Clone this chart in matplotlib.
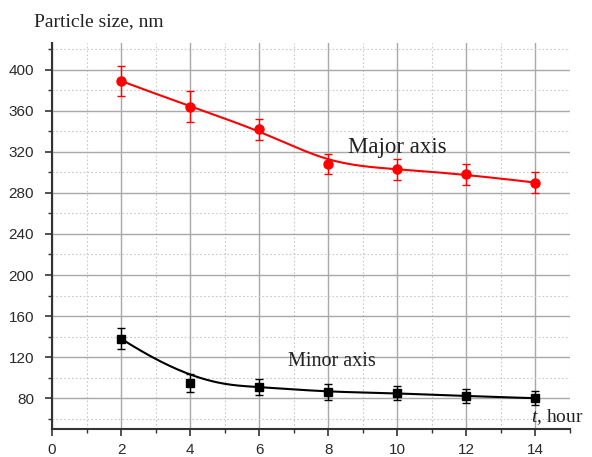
import numpy as np
import matplotlib
matplotlib.use("Agg")
import matplotlib.pyplot as plt
from matplotlib.ticker import MultipleLocator

t_hours = [2, 4, 6, 8, 10, 12, 14]
major_axis = [389, 364, 342, 308, 303, 298, 290]
major_err = [15, 15, 10, 10, 10, 10, 10]
minor_axis = [138, 95, 91, 86, 85, 82, 80]
minor_err = [10, 9, 8, 8, 7, 7, 7]

plt.rcParams["mathtext.fontset"] = "custom"
plt.rcParams["mathtext.it"] = "Liberation Serif:italic"
plt.rcParams["mathtext.rm"] = "Liberation Serif"


def bspline(x, y, n=300, k=3):
    """Clamped cubic B-spline using the data points as control points."""
    P = np.column_stack([x, y]).astype(float)
    m = len(P)
    inner = np.arange(1, m - k)
    knots = np.concatenate([np.zeros(k + 1), inner, np.full(k + 1, m - k)]).astype(float)
    u = np.linspace(0, m - k, n)
    u[-1] -= 1e-9
    B = np.zeros((n, len(knots) - 1))
    for i in range(len(knots) - 1):
        B[:, i] = (knots[i] <= u) & (u < knots[i + 1])
    for d in range(1, k + 1):
        Bn = np.zeros((n, len(knots) - 1 - d))
        for i in range(len(knots) - 1 - d):
            a = knots[i + d] - knots[i]
            b = knots[i + d + 1] - knots[i + 1]
            t1 = (u - knots[i]) / a * B[:, i] if a > 0 else 0
            t2 = (knots[i + d + 1] - u) / b * B[:, i + 1] if b > 0 else 0
            Bn[:, i] = t1 + t2
        B = Bn
    C = B @ P
    return C[:, 0], C[:, 1]


fig = plt.figure(figsize=(5.92, 4.57), dpi=100)
ax = fig.add_axes([52 / 592, 28 / 457, 518 / 592, 386 / 457])
ax.set_xlim(0, 15)
ax.set_ylim(50, 426)

ax.xaxis.set_major_locator(MultipleLocator(2))
ax.xaxis.set_minor_locator(MultipleLocator(1))
ax.yaxis.set_minor_locator(MultipleLocator(20))
ax.set_yticks([80, 120, 160, 200, 240, 280, 320, 360, 400])

ax.grid(which="major", color="#a8a8a8", lw=1.0, ls="-")
ax.grid(which="minor", color="#c8c8c8", lw=0.8, ls=(0, (1.5, 2)))
ax.set_axisbelow(True)

for s in ("top", "right"):
    ax.spines[s].set_visible(False)
for s in ("left", "bottom"):
    ax.spines[s].set_color("#333333")
    ax.spines[s].set_linewidth(1.5)

ax.tick_params(which="major", direction="out", length=5, width=1.2, color="#333333",
               labelsize=11, labelcolor="#2a2a2a")
ax.tick_params(axis="y", which="major", pad=8)
ax.tick_params(axis="x", which="major", pad=5)
ax.tick_params(which="minor", direction="out", length=3, width=1.0, color="#333333")
for lab in ax.get_xticklabels() + ax.get_yticklabels():
    lab.set_family("Liberation Sans")

xs, ys = bspline(t_hours, major_axis)
ax.plot(xs, ys, color="red", lw=1.5, zorder=3)
ax.errorbar(t_hours, major_axis, yerr=major_err, fmt="o", color="red", ms=6.5,
            capsize=3, elinewidth=1, capthick=1, zorder=4)

xs, ys = bspline(t_hours, minor_axis)
ax.plot(xs, ys, color="black", lw=1.5, zorder=3)
ax.errorbar(t_hours, minor_axis, yerr=minor_err, fmt="s", color="black", ms=5.5,
            capsize=3, elinewidth=1, capthick=1, zorder=4)

serif = "Liberation Serif"
fig.text(34 / 592, 1 - 22 / 457, "Particle size, nm", family=serif, fontsize=14,
         color="#222222", va="center", ha="left")
ax.text(8.57, 324, "Major axis", family=serif, fontsize=16.5, color="#222222",
        va="center", ha="left")
ax.text(6.83, 116, "Minor axis", family=serif, fontsize=14.5, color="#222222",
        va="center", ha="left")
fig.text(531 / 592, 1 - 417 / 457, r"$t$, hour", family=serif, fontsize=14,
         color="#222222", va="center", ha="left")

fig.savefig("out.png", dpi=100)
